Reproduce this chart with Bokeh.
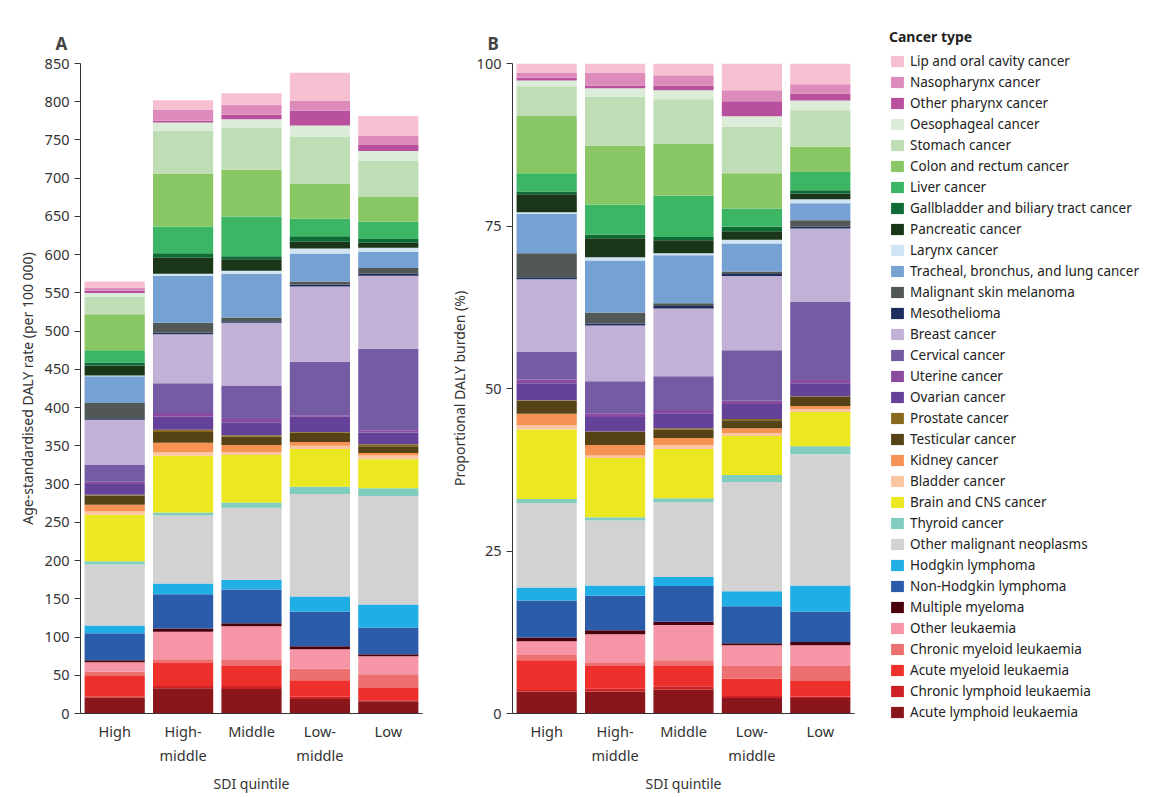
import numpy as np
from bokeh.plotting import figure
from bokeh.models import FactorRange, Legend, LegendItem, FixedTicker
from bokeh.layouts import row
from bokeh.embed import file_html
from bokeh.resources import INLINE

quintiles = ["High", "High-\nmiddle", "Middle", "Low-\nmiddle", "Low"]

# bottom to top stacking order
cancers = ["Acute lymphoid leukaemia", "Chronic lymphoid leukaemia", "Acute myeloid leukaemia",
           "Chronic myeloid leukaemia", "Other leukaemia", "Multiple myeloma", "Non-Hodgkin lymphoma",
           "Hodgkin lymphoma", "Other malignant neoplasms", "Thyroid cancer", "Brain and CNS cancer",
           "Bladder cancer", "Kidney cancer", "Testicular cancer", "Prostate cancer", "Ovarian cancer",
           "Uterine cancer", "Cervical cancer", "Breast cancer", "Mesothelioma", "Malignant skin melanoma",
           "Tracheal, bronchus, and lung cancer", "Larynx cancer", "Pancreatic cancer",
           "Gallbladder and biliary tract cancer", "Liver cancer", "Colon and rectum cancer",
           "Stomach cancer", "Oesophageal cancer", "Other pharynx cancer", "Nasopharynx cancer",
           "Lip and oral cavity cancer"]

colors = ["#8a161b", "#ce2126", "#ee302c", "#ec7070", "#f595a6", "#4b000d", "#2a5caa",
          "#20aee5", "#d1d2d1", "#80cdc0", "#ebe721", "#fbc5a3", "#f69254", "#564315",
          "#8a6b1e", "#654299", "#8a4a9f", "#745ba4", "#c1b1d6", "#1d2d5c", "#525758",
          "#75a1d3", "#d0e5f3", "#1b3519", "#0e6b35", "#3cb665", "#89c765", "#bfdeb5",
          "#dbecd8", "#b9509e", "#dd8bbb", "#f7c0d0"]

# panel A: age-standardised DALY rate per 100 000, one list per quintile (bottom to top)
rate_high = [21, 1, 28, 5, 12, 2.5, 35.5, 10, 80, 4, 61, 4, 9, 12, 1, 14, 3, 22, 59, 1, 21,
             35, 1, 13, 4, 16, 47, 23, 5, 3, 4, 8]
rate_highmid = [33, 3, 30, 5, 36, 4, 45, 14, 89, 4, 74, 5, 12, 14, 3, 17, 5, 39, 64, 2, 13,
                61, 3, 21, 6, 35, 69, 56, 11, 2, 15, 12]
rate_mid = [32, 4, 26, 8, 44, 4, 44, 13, 94, 7, 62, 4, 9, 11, 2, 17, 4, 44, 82, 2, 5,
            57, 4, 15, 4, 52, 61, 55, 11, 6, 13, 15]
rate_lowmid = [19, 3, 21.5, 15.5, 25, 4, 45.5, 19.5, 134, 9.5, 49.5, 4, 5, 12, 1, 20, 2, 70,
               98.5, 2.5, 4, 36.6, 6.4, 9, 7, 23, 46, 61.6, 14.4, 19.6, 13, 36.4]
rate_low = [16, 1.4, 17, 17, 23.5, 2.6, 35, 30, 142, 10, 38, 5, 3, 9, 2.6, 15.4, 3, 106.5,
            95.5, 2.5, 7.5, 21, 5.5, 6.5, 5, 22.5, 32.5, 47, 13, 8, 11.6, 26.4]

# panel B: proportional DALY burden (%)
prop_high = [3.4, 0.2, 4.6, 0.8, 2.1, 0.6, 5.7, 2.0, 13.0, 0.6, 10.7, 0.7, 1.7, 2.0, 0.1, 2.6,
             0.6, 4.2, 11.2, 0.3, 3.7, 6.1, 0.2, 2.8, 0.4, 2.8, 8.9, 4.5, 0.9, 0.4, 0.8, 1.4]
prop_highmid = [3.4, 0.4, 3.5, 0.6, 4.3, 0.6, 5.3, 1.6, 10.0, 0.5, 9.1, 0.4, 1.6, 2.0, 0.1, 2.2,
                0.6, 4.9, 8.6, 0.3, 1.7, 8.0, 0.5, 2.9, 0.6, 4.6, 9.1, 7.5, 1.3, 0.4, 2.0, 1.4]
prop_mid = [3.7, 0.5, 3.1, 0.9, 5.4, 0.5, 5.5, 1.4, 11.5, 0.6, 7.6, 0.6, 1.1, 1.3, 0.2, 2.3,
            0.5, 5.2, 10.4, 0.4, 0.4, 7.4, 0.3, 2.0, 0.5, 6.4, 7.9, 6.9, 1.4, 0.7, 1.6, 1.8]
prop_lowmid = [2.4, 0.3, 2.7, 1.9, 3.2, 0.3, 5.7, 2.3, 16.8, 1.1, 6.0, 0.4, 0.8, 1.2, 0.2, 2.3,
               0.5, 7.8, 11.4, 0.3, 0.4, 4.3, 0.6, 1.3, 0.7, 2.8, 5.4, 7.2, 1.6, 2.3, 1.7, 4.1]
prop_low = [2.4, 0.2, 2.4, 2.3, 3.2, 0.5, 4.7, 4.0, 20.2, 1.2, 5.3, 0.4, 0.5, 1.4, 0.1, 2.0,
            0.5, 12.0, 11.3, 0.3, 1.0, 2.6, 0.6, 0.9, 0.5, 2.8, 3.9, 5.6, 1.5, 1.1, 1.4, 3.2]

FONT = "Noto Sans"


def make_source(cols):
    src = {"q": quintiles}
    for i, c in enumerate(cancers):
        src[c] = [col[i] for col in cols]
    return src


def style(p, ylabel):
    p.title.text_font = FONT
    p.title.text_font_size = "17px"
    p.title.text_font_style = "bold"
    p.title.offset = -25
    p.title.standoff = 18
    p.xgrid.visible = False
    p.ygrid.visible = False
    p.outline_line_color = None
    p.x_range.range_padding = 0
    for ax in (p.xaxis, p.yaxis):
        ax.major_label_text_font = FONT
        ax.major_label_text_font_size = "14.5px"
        ax.major_label_text_color = "#333333"
        ax.axis_label_text_font = FONT
        ax.axis_label_text_font_size = "14px"
        ax.axis_label_text_font_style = "normal"
        ax.axis_label_text_color = "#333333"
        ax.axis_line_color = "#333333"
        ax.major_tick_line_color = "#333333"
        ax.minor_tick_line_color = None
    p.xaxis.major_tick_line_color = None
    p.xaxis.major_label_standoff = 1
    p.xaxis.axis_label_standoff = 6
    p.xaxis.axis_label = "SDI quintile"
    p.yaxis.axis_label = ylabel
    p.yaxis.major_tick_out = 6
    p.yaxis.major_tick_in = 0


pA = figure(x_range=FactorRange(*quintiles), y_range=(0, 850), frame_width=342, frame_height=650,
            title="A", toolbar_location=None, output_backend="svg",
            min_border_left=80, min_border_right=10, min_border_top=63, min_border_bottom=5)
pA.vbar_stack(cancers, x="q", width=0.88, color=colors, line_color=None,
              source=make_source([rate_high, rate_highmid, rate_mid, rate_lowmid, rate_low]))
style(pA, "Age-standardised DALY rate (per 100 000)")
pA.yaxis.ticker = FixedTicker(ticks=list(range(0, 851, 50)))

pB = figure(x_range=FactorRange(*quintiles), y_range=(0, 100), frame_width=342, frame_height=650,
            title="B", toolbar_location=None, output_backend="svg",
            min_border_left=80, min_border_right=10, min_border_top=63, min_border_bottom=5)
rs = pB.vbar_stack(cancers, x="q", width=0.88, color=colors, line_color=None,
                   source=make_source([prop_high, prop_highmid, prop_mid, prop_lowmid, prop_low]))
style(pB, "Proportional DALY burden (%)")
pB.yaxis.ticker = FixedTicker(ticks=[0, 25, 50, 75, 100])

items = [LegendItem(label=c, renderers=[r]) for c, r in zip(cancers, rs)][::-1]
leg = Legend(items=items, title="Cancer type", location=(35, -8))
leg.title_text_font = FONT
leg.title_text_font_size = "14px"
leg.title_text_font_style = "bold"
leg.title_text_color = "#222222"
leg.label_text_font = FONT
leg.label_text_font_size = "13.5px"
leg.label_text_color = "#222222"
leg.glyph_width = 16
leg.glyph_height = 14
leg.label_height = 14
leg.spacing = 3
leg.padding = 0
leg.margin = 0
leg.border_line_color = None
leg.background_fill_alpha = 0
leg.title_standoff = 6
pB.add_layout(leg, "right")

layout = row(pA, pB)
open("out.html", "w").write(file_html(layout, INLINE))
